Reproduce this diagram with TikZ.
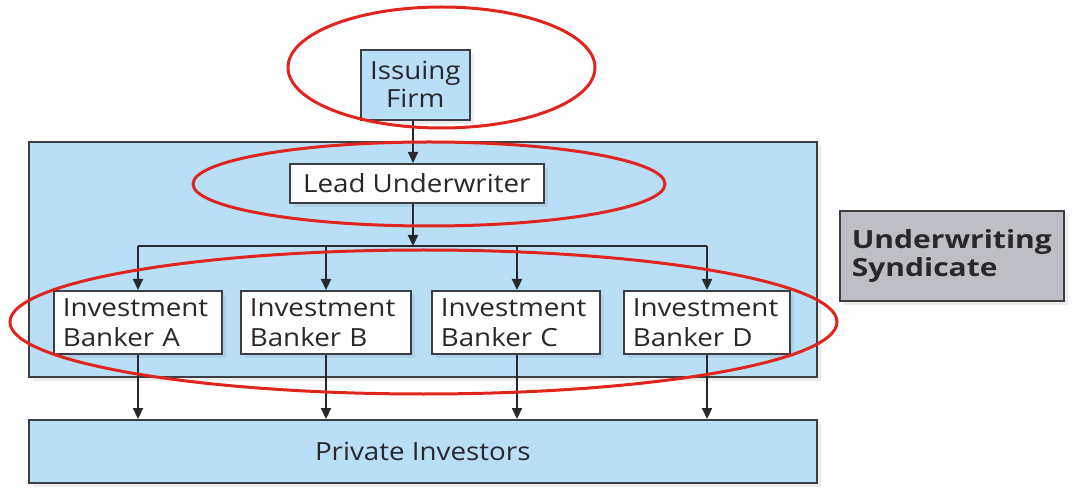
\documentclass[tikz,border=0pt]{standalone}
\usepackage{fontspec}
\setmainfont{Open Sans}[FakeStretch=1.11, BoldFeatures={FakeStretch=1.2}]
\usetikzlibrary{arrows.meta,shadows}
\definecolor{boxblue}{RGB}{184,223,246}
\definecolor{boxgray}{RGB}{190,191,196}
\definecolor{edge}{RGB}{60,62,66}
\definecolor{ink}{RGB}{40,40,44}
\definecolor{ovalred}{RGB}{224,36,30}
\tikzset{
  box/.style={draw=edge, line width=1.6pt, inner sep=0pt, text=ink,
    drop shadow={opacity=0.15, shadow xshift=4pt, shadow yshift=-4pt}},
  bluebox/.style={box, fill=boxblue},
  whitebox/.style={box, fill=white},
  flow/.style={draw=ink, line width=2.2pt, -{Triangle[length=11pt,width=10pt]}},
  bus/.style={draw=ink, line width=2.2pt},
  oval/.style={draw=ovalred, line width=3pt},
  txt/.style={font=\fontsize{25}{30}\selectfont}
}
\begin{document}
\begin{tikzpicture}[x=1pt,y=-1pt]
\useasboundingbox (0,0) rectangle (1086,502);
% syndicate frame
\node[bluebox, minimum width=788pt, minimum height=235pt, anchor=north west] (synd) at (28,141) {};
% issuing firm
\node[bluebox, minimum width=109pt, minimum height=70pt, anchor=north west, txt, align=center, font=\fontsize{25}{28}\selectfont] (issue) at (360,49) {Issuing\\Firm};
% lead underwriter
\node[whitebox, minimum width=254pt, minimum height=39pt, anchor=north west, txt] (lead) at (289,163) {Lead Underwriter};
% bankers
\node[whitebox, minimum width=168pt, minimum height=63pt, anchor=north west, txt, align=left, text width=150pt] (bA) at (53,290) {Investment\\Banker A};
\node[whitebox, minimum width=170pt, minimum height=63pt, anchor=north west, txt, align=left, text width=152pt] (bB) at (240,290) {Investment\\Banker B};
\node[whitebox, minimum width=168pt, minimum height=63pt, anchor=north west, txt, align=left, text width=150pt] (bC) at (431,290) {Investment\\Banker C};
\node[whitebox, minimum width=166pt, minimum height=63pt, anchor=north west, txt, align=left, text width=148pt] (bD) at (623,290) {Investment\\Banker D};
% private investors
\node[bluebox, minimum width=788pt, minimum height=63pt, anchor=north west, txt] (priv) at (28,419) {Private Investors};
% label
\node[box, fill=boxgray, minimum width=224pt, minimum height=90pt, anchor=north west, align=left, text width=200pt, font=\fontsize{25}{28}\selectfont\bfseries] (label) at (839,210) {Underwriting\\Syndicate};
% connectors
\coordinate (busL) at (138,246);
\coordinate (busR) at (707,246);
\coordinate (busM) at (413,246);
\coordinate (busB) at (326,246);
\coordinate (busC) at (517,246);
\draw[flow] (issue.south -| busM) -- (lead.north -| busM);
\draw[flow] (lead.south -| busM) -- (busM);
\draw[bus] (busL) -- (busR);
\draw[flow] (busL) -- (bA.north -| busL);
\draw[flow] (busB) -- (bB.north -| busB);
\draw[flow] (busC) -- (bC.north -| busC);
\draw[flow] (busR) -- (bD.north -| busR);
\draw[flow] (bA.south -| busL) -- (priv.north -| busL);
\draw[flow] (bB.south -| busB) -- (priv.north -| busB);
\draw[flow] (bC.south -| busC) -- (priv.north -| busC);
\draw[flow] (bD.south -| busR) -- (priv.north -| busR);
% red ovals
\draw[oval] (441.5,67.5) ellipse [x radius=153.5, y radius=60.5];
\draw[oval] (429,184) ellipse [x radius=236, y radius=42];
\draw[oval] (423.5,322) ellipse [x radius=413.5, y radius=72];
\end{tikzpicture}
\end{document}
